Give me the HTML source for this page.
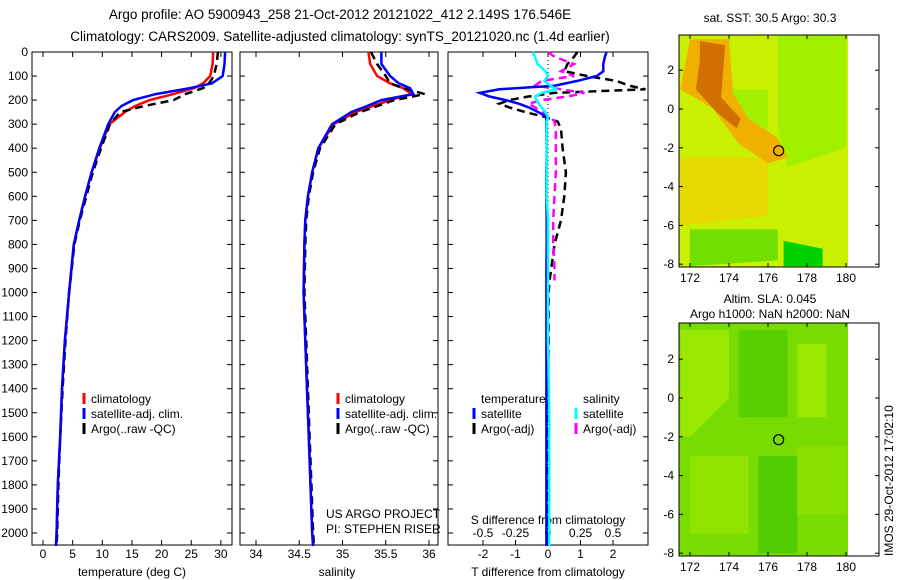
<!DOCTYPE html>
<html><head><meta charset="utf-8"><style>
body{margin:0;background:#fff;}
svg{display:block;font-family:"Liberation Sans",sans-serif;}
text{fill:#000;}
</style></head><body>
<svg id="s" width="900" height="580" xmlns="http://www.w3.org/2000/svg">
<text x="340" y="19" font-size="13.5" text-anchor="middle">Argo profile: AO 5900943_258 21-Oct-2012 20121022_412 2.149S 176.546E</text>
<text x="340" y="41" font-size="13.5" text-anchor="middle">Climatology: CARS2009. Satellite-adjusted climatology: synTS_20121020.nc (1.4d earlier)</text>
<g id="g"></g>
<text transform="translate(893,556) rotate(-90)" font-size="12">IMOS 29-Oct-2012 17:02:10</text>
</svg>
<script>
// ---------- data ----------
const depth = [0,50,100,130,150,175,200,225,250,300,400,500,600,700,800,1000,1200,1400,1600,1800,2000,2054];
const tempClim = [28.7,28.6,28.2,27.0,25.5,22.0,18.0,15.5,13.8,11.2,9.6,8.2,7.1,6.1,5.2,4.4,3.7,3.2,2.9,2.5,2.3,2.2];
const tempSat  = [30.7,30.6,30.3,28.5,24.8,19.0,15.2,13.2,12.1,11.0,9.5,8.2,7.1,6.1,5.2,4.4,3.7,3.2,2.9,2.5,2.3,2.2];
const tempArgo = [29.5,29.3,28.8,28.0,27.0,24.0,22.0,17.0,13.0,11.3,9.8,8.4,7.3,6.2,5.3,4.4,3.8,3.3,2.9,2.6,2.4,2.3];
const salClim = [35.30,35.32,35.40,35.55,35.70,35.80,35.55,35.35,35.15,34.90,34.72,34.65,34.60,34.57,34.56,34.55,34.57,34.59,34.61,34.63,34.65,34.66];
const salSat  = [35.45,35.45,35.55,35.65,35.78,35.82,35.45,35.28,35.10,34.88,34.72,34.65,34.60,34.57,34.56,34.55,34.57,34.59,34.61,34.63,34.65,34.66];
const salArgo = [35.33,35.40,35.50,35.55,35.70,35.95,35.60,35.40,35.20,34.92,34.74,34.66,34.61,34.58,34.57,34.56,34.58,34.60,34.62,34.64,34.66,34.67];
const dDepth = [0,20,50,80,100,120,140,155,170,185,200,215,230,250,270,290,320,400,500,600,700,800,900,950,1000,1200,1500,2054];
const tDiffSat  = [1.8,1.75,1.7,1.7,1.5,0.9,0.2,-1.5,-2.1,-1.8,-1.3,-0.9,-0.6,-0.3,-0.05,-0.05,-0.05,-0.04,-0.05,-0.05,-0.04,-0.04,-0.05,-0.05,-0.05,-0.05,-0.05,-0.05];
const tDiffArgo = [0.9,0.8,0.6,0.5,1.2,2.1,2.5,3.0,0.2,-0.6,-1.2,-1.5,-1.2,-0.7,-0.1,0.3,0.4,0.45,0.55,0.5,0.4,0.2,0.1,0.05,0.02,0.02,0.0,0.0];
const sDiffSat  = [-0.12,-0.1,-0.08,-0.02,0.0,-0.03,0.02,0.06,-0.05,-0.1,-0.09,-0.07,-0.05,-0.02,0.0,-0.01,-0.01,-0.01,-0.01,-0.01,0.0,0.0,0.0,0.0,0.0,0.0,0.01,0.01];
const sDiffArgo = [0.0,0.05,0.2,0.1,0.2,-0.05,-0.1,0.1,0.28,0.15,-0.05,-0.15,-0.1,-0.05,0.02,0.05,0.06,0.06,0.06,0.05,0.04,0.04,0.05,0.05,null,null,null,null];
const depthTicks = [0,100,200,300,400,500,600,700,800,900,1000,1100,1200,1300,1400,1500,1600,1700,1800,1900,2000];
const tempTicks = [0,5,10,15,20,25,30];
const salTicks = [34,34.5,35,35.5,36];
const tdTicks = [-2,-1,0,1,2];
const sdTicks = [-0.5,-0.25,0,0.25,0.5];
const lonTicks = [172,174,176,178,180];
const latTicks = [2,0,-2,-4,-6,-8];

// ---------- helpers ----------
const NS="http://www.w3.org/2000/svg";
const G=document.getElementById('g');
function mk(tag,attrs,parent){const e=document.createElementNS(NS,tag);for(const k in attrs)e.setAttribute(k,attrs[k]);(parent||G).appendChild(e);return e;}
function txt(x,y,s,size,anchor,parent){const t=mk('text',{x:x,y:y,'font-size':size||12,'text-anchor':anchor||'middle'},parent);t.textContent=s;return t;}
const TOP=52,BOT=545;
const yD=d=>TOP+d*0.2405;
function line(xs,ds,sx,color,w,dash,name){
  let p='';let pen=false;
  xs.forEach((v,i)=>{if(v===null){pen=false;return;}p+=(pen?'L':'M')+sx(v).toFixed(1)+','+yD(ds[i]).toFixed(1);pen=true;});
  const e=mk('path',{d:p,fill:'none',stroke:color,'stroke-width':w,'stroke-dasharray':dash||'none'});
  
  
  return e;
}
function frame(x0,x1,name){
  const r=mk('rect',{x:x0,y:TOP,width:x1-x0,height:BOT-TOP,fill:'none',stroke:'#000','stroke-width':1});
  
  
}
function xticks(vals,sx,labels,y,name){
  vals.forEach((v,i)=>{const x=sx(v);
    mk('line',{x1:x,x2:x,y1:BOT,y2:BOT-5,stroke:'#000'});mk('line',{x1:x,x2:x,y1:TOP,y2:TOP+5,stroke:'#000'});
    const t=txt(x,y,labels?labels[i]:String(v),12);
    
    });
}
function yticks(x0,x1){depthTicks.forEach(d=>{const y=yD(d);mk('line',{x1:x0,x2:x0+5,y1:y,y2:y,stroke:'#000'});mk('line',{x1:x1,x2:x1-5,y1:y,y2:y,stroke:'#000'});});}
function legend(x,y,items){items.forEach((it,i)=>{mk('line',{x1:x,x2:x,y1:y+i*15-10,y2:y+i*15+1,stroke:it[0],'stroke-width':3});
  const t=txt(x+7,y+i*15,it[1],12,'start');
  
  });}

// ---------- panel 1: temperature ----------
const sxT=v=>43+v*5.93;
frame(32,232,'temperature-panel');yticks(32,232);
depthTicks.forEach(d=>{const t=txt(28,yD(d)+4,String(d),12,'end');
  
  });
xticks(tempTicks,sxT,null,558,'temperature-tick-label');
let t1=txt(132,576,'temperature (deg C)',12);
line(tempClim,depth,sxT,'#f00',2.5,null,'temp-climatology-line');
line(tempArgo,depth,sxT,'#000',2.5,'8 5','temp-argo-line');
line(tempSat,depth,sxT,'#00f',2.5,null,'temp-satellite-line');
legend(84,403,[['#f00','climatology'],['#00f','satellite-adj. clim.'],['#000','Argo(..raw -QC)']]);

// ---------- panel 2: salinity ----------
const sxS=v=>256+(v-34)*86.5;
frame(240,438,'salinity-panel');yticks(240,438);
xticks(salTicks,sxS,null,558,'salinity-tick-label');
let t2=txt(337,576,'salinity',12);
line(salClim,depth,sxS,'#f00',2.5,null,'sal-climatology-line');
line(salArgo,depth,sxS,'#000',2.5,'8 5','sal-argo-line');
line(salSat,depth,sxS,'#00f',2.5,null,'sal-satellite-line');
legend(338,403,[['#f00','climatology'],['#00f','satellite-adj. clim.'],['#000','Argo(..raw -QC)']]);
txt(326,518,'US ARGO PROJECT',12,'start');txt(326,533,'PI: STEPHEN RISER',12,'start');

// ---------- panel 3: differences ----------
const sxTD=v=>548+v*32.5;
const sxSD=v=>548+v*130;
frame(448,648,'difference-panel');yticks(448,648);
xticks(tdTicks,sxTD,null,558,'t-diff-tick-label');
sdTicks.forEach(v=>{const t=txt(sxSD(v),537,String(v),12);});
txt(548,524,'S difference from climatology',12);
let t3=txt(548,576,'T difference from climatology',12);
mk('line',{x1:548,x2:548,y1:TOP,y2:BOT,stroke:'#000','stroke-dasharray':'1 3'});
line(tDiffArgo,dDepth,sxTD,'#000',2.5,'8 5','tdiff-argo-line');
line(sDiffArgo,dDepth,sxSD,'#f0f',2.5,'8 5','sdiff-argo-line');
line(tDiffSat,dDepth,sxTD,'#00f',2.5,null,'tdiff-satellite-line');
line(sDiffSat,dDepth,sxSD,'#0ff',2.5,null,'sdiff-satellite-line');
txt(481,403,'temperature',12,'start');txt(583,403,'salinity',12,'start');
legend(474,418,[['#00f','satellite'],['#000','Argo(-adj)']]);
legend(576,418,[['#0ff','satellite'],['#f0f','Argo(-adj)']]);

// ---------- maps ----------
const sxLon=v=>690+(v-172)*19.5;
function map(top,bottom,lat0y,base,blobs,title1,title2,name){
  const grp=mk('g',{});
  
  
  const syLat=v=>lat0y-v*19.4;
  mk('rect',{x:679,y:top,width:169,height:bottom-top,fill:base},grp);
  blobs.forEach(b=>mk('polygon',{points:b[1].map(p=>sxLon(p[0]).toFixed(1)+','+syLat(p[1]).toFixed(1)).join(' '),fill:b[0]},grp));
  mk('circle',{cx:sxLon(176.546),cy:syLat(-2.149),r:5,fill:'none',stroke:'#000','stroke-width':1.2},grp);
  mk('rect',{x:679,y:top,width:200,height:bottom-top,fill:'none',stroke:'#000'},grp);
  lonTicks.forEach(v=>{const x=sxLon(v);mk('line',{x1:x,x2:x,y1:bottom,y2:bottom-4,stroke:'#000'},grp);mk('line',{x1:x,x2:x,y1:top,y2:top+4,stroke:'#000'},grp);txt(x,bottom+15,String(v),12,'middle',grp);});
  latTicks.forEach(v=>{const y=syLat(v);mk('line',{x1:679,x2:683,y1:y,y2:y,stroke:'#000'},grp);mk('line',{x1:879,x2:875,y1:y,y2:y,stroke:'#000'},grp);txt(674,y+4,String(v),12,'end',grp);});
  if(title1)txt(770,top-20,title1,12,'middle',grp);
  txt(770,top-(title1?5:13),title2,12,'middle',grp);
}
map(35,267,109,'#c8f000',[
  ['#a0f000',[[176.5,3.8],[180,3.8],[180,-2],[177,-3],[176.5,-1]]],
  ['#a0f000',[[174,1],[176,1],[176,-1],[174.5,-1]]],
  ['#e8d800',[[171.5,-2.5],[176,-2.5],[176,-5.5],[171.5,-6]]],
  ['#f0b000',[[172,3.6],[174,3.6],[174.2,0.8],[175,-0.5],[176.5,-1.5],[177,-2.5],[176,-2.8],[174.5,-1.8],[173.2,0],[172.4,0.5],[171.5,1]]],
  ['#d07000',[[172.5,3.5],[173.8,3.3],[173.6,0.6],[174.6,-0.5],[174.4,-1],[173.4,-0.2],[172.3,1],[172.5,2.5]]],
  ['#70e000',[[172,-6.2],[176.5,-6.2],[176.5,-7.8],[172,-8.1]]],
  ['#00d000',[[176.8,-6.8],[178.8,-7.2],[178.8,-8.1],[176.8,-8.1]]]
],'','sat. SST: 30.5  Argo: 30.3','sst-map');
map(323,556,398,'#78dc00',[
  ['#98e800',[[171.5,3.5],[174,3.5],[174,0],[172,-2],[171.5,-2]]],
  ['#98e800',[[177.5,2.8],[179,2.8],[179,-1],[177.5,-1]]],
  ['#58d000',[[174.5,3.5],[177,3.5],[177,-1],[174.5,-1]]],
  ['#90e400',[[172,-3],[175,-3],[175,-7],[172,-7]]],
  ['#50cc00',[[175.5,-3],[177.5,-3],[177.5,-8],[175.5,-8]]],
  ['#88e000',[[177.5,-2.5],[180,-2.5],[180,-6],[177.5,-6]]]
],'Altim. SLA: 0.045','Argo h1000: NaN h2000: NaN','sla-map');
</script>
</body></html>
